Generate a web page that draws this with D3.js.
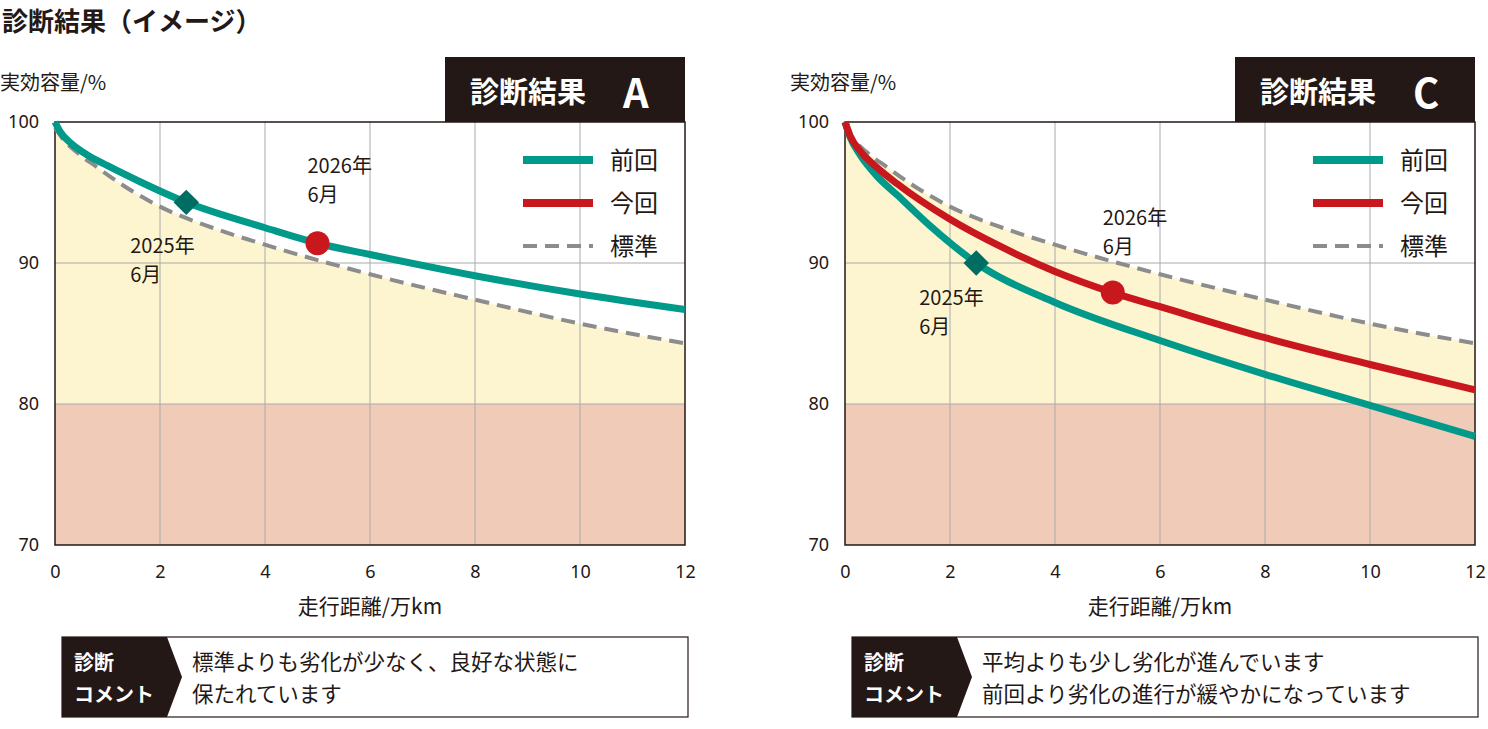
<!DOCTYPE html>
<meta charset="utf-8" />
<style>
  body { margin: 0; background: #fff; }
  text { font-family: "Noto Sans CJK JP", "Noto Sans", sans-serif; fill: #231815; }
</style>
<svg width="1488" height="729"></svg>
<script src="https://d3js.org/d3.v7.min.js"></script>
<script>
  var xTicks = [0, 2, 4, 6, 8, 10, 12];
  var yTicks = [70, 80, 90, 100];
  var stdX = [0, 0.15, 0.4, 0.8, 1.3, 2, 3, 4, 6, 8, 10, 12];
  var stdY = [99.6, 98.8, 97.9, 96.8, 95.5, 94, 92.5, 91.3, 89.2, 87.4, 85.7, 84.3];
  var aPrevX = [0, 0.1, 0.3, 0.6, 1, 1.6, 2.5, 4, 5, 6, 8, 10, 12];
  var aPrevY = [100, 99.3, 98.5, 97.7, 96.9, 95.8, 94.3, 92.5, 91.4, 90.6, 89.1, 87.8, 86.7];
  var cPrevX = [0, 0.1, 0.3, 0.6, 1, 1.6, 2.5, 4, 6, 8, 10, 12];
  var cPrevY = [100, 98.9, 97.6, 96.2, 94.8, 92.7, 90, 87.2, 84.5, 82.1, 79.9, 77.7];
  var cNowX = [0, 0.1, 0.3, 0.6, 1, 2, 3, 4, 5.1, 6, 8, 10, 12];
  var cNowY = [100, 99, 97.9, 96.8, 95.6, 93.1, 91.1, 89.4, 87.9, 86.9, 84.7, 82.8, 81];
  var legendLabels = ["前回", "今回", "標準"];

  var teal = "#00998a", red = "#c9171e", dark = "#231815";
  var svg = d3.select("svg");
  svg.append("text").attr("x", 2).attr("y", 31).attr("font-size", 26).attr("font-weight", "bold").text("診断結果（イメージ）");

  function zip(xs, ys) { return xs.map((x, i) => [x, ys[i]]); }

  function chart(x0, grade, series, markers, comment) {
    var g = svg.append("g");
    var x = d3.scaleLinear().domain([0, 12]).range([x0, x0 + 630]);
    var y = d3.scaleLinear().domain([70, 100]).range([545, 122]);
    var line = d3.line().x(d => x(d[0])).y(d => y(d[1])).curve(d3.curveMonotoneX);
    var std = zip(stdX, stdY);

    g.append("rect").attr("x", x(0)).attr("y", y(80)).attr("width", x(12) - x(0)).attr("height", y(70) - y(80)).attr("fill", "#f0cbb8");
    g.append("path").attr("fill", "#fdf5d0")
      .attr("d", d3.area().x(d => x(d[0])).y0(y(80)).y1(d => y(d[1])).curve(d3.curveMonotoneX)([[0, 100]].concat(std.slice(1))));
    xTicks.slice(1, -1).forEach(t => g.append("line").attr("x1", x(t)).attr("x2", x(t)).attr("y1", y(100)).attr("y2", y(70)).attr("stroke", "#aaa").attr("stroke-width", 1));
    [90, 80].forEach(t => g.append("line").attr("x1", x(0)).attr("x2", x(12)).attr("y1", y(t)).attr("y2", y(t)).attr("stroke", "#aaa").attr("stroke-width", 1));
    g.append("rect").attr("x", x(0)).attr("y", y(100)).attr("width", x(12) - x(0)).attr("height", y(70) - y(100)).attr("fill", "none").attr("stroke", dark).attr("stroke-width", 1.5);

    g.append("path").attr("d", line(std)).attr("fill", "none").attr("stroke", "#8c8c8c").attr("stroke-width", 4).attr("stroke-dasharray", "14,8");
    series.forEach(s => g.append("path").attr("d", line(s.d)).attr("fill", "none").attr("stroke", s.c).attr("stroke-width", 7));

    markers.forEach(m => {
      if (m.type === "d") g.append("rect").attr("x", -9).attr("y", -9).attr("width", 18).attr("height", 18).attr("fill", "#006d62")
        .attr("transform", `translate(${x(m.x)},${y(m.y)}) rotate(45)`);
      else g.append("circle").attr("cx", x(m.x)).attr("cy", y(m.y)).attr("r", 12).attr("fill", red);
      m.label.forEach((l, i) => g.append("text").attr("x", x(m.x) + m.dx).attr("y", y(m.y) + m.dy + i * 29).attr("font-size", 20).text(l));
    });

    var xa = g.append("g").attr("transform", "translate(0,545)").call(d3.axisBottom(x).tickValues(xTicks).tickSize(0).tickPadding(20));
    var ya = g.append("g").attr("transform", `translate(${x0},0)`).call(d3.axisLeft(y).tickValues(yTicks).tickSize(0).tickPadding(16));
    [xa, ya].forEach(a => { a.select(".domain").remove(); a.selectAll("text").attr("font-size", 18).style("font-family", "Noto Sans, sans-serif").attr("fill", dark); });
    g.append("text").attr("x", x0 - 55).attr("y", 90).attr("font-size", 20).text("実効容量/%");
    g.append("text").attr("x", x(6)).attr("y", 614).attr("font-size", 21).attr("text-anchor", "middle").text("走行距離/万km");

    g.append("rect").attr("x", x0 + 390).attr("y", 57).attr("width", 240).attr("height", 65).attr("fill", dark);
    g.append("text").attr("x", x0 + 415).attr("y", 103).attr("font-size", 29).attr("font-weight", "bold").style("fill", "#fff").text("診断結果");
    g.append("text").attr("x", x0 + 568).attr("y", 108).attr("font-size", 40).attr("font-weight", "bold").style("fill", "#fff").text(grade);

    var lc = [teal, red, "#8c8c8c"];
    legendLabels.forEach((l, i) => {
      var ly = 160 + i * 43;
      g.append("line").attr("x1", x0 + 468).attr("x2", x0 + 538).attr("y1", ly).attr("y2", ly).attr("stroke", lc[i])
        .attr("stroke-width", i === 2 ? 4 : 8).attr("stroke-dasharray", i === 2 ? "14,8" : null);
      g.append("text").attr("x", x0 + 555).attr("y", ly + 9).attr("font-size", 24).text(l);
    });

    var cx = x0 + 7;
    g.append("rect").attr("x", cx).attr("y", 637).attr("width", 626).attr("height", 80).attr("fill", "#fff").attr("stroke", dark).attr("stroke-width", 1.2);
    g.append("path").attr("d", `M${cx},637 H${cx + 105} L${cx + 120},677 L${cx + 105},717 H${cx} Z`).attr("fill", dark);
    g.append("text").attr("x", cx + 12).attr("y", 670).attr("font-size", 20).attr("font-weight", "bold").style("fill", "#fff").text("診断");
    g.append("text").attr("x", cx + 12).attr("y", 702).attr("font-size", 20).attr("font-weight", "bold").style("fill", "#fff").text("コメント");
    comment.forEach((c, i) => g.append("text").attr("x", cx + 130).attr("y", 670 + i * 32).attr("font-size", 21.5).text(c));
  }

  chart(55, "A", [{ d: zip(aPrevX, aPrevY), c: teal }],
    [{ type: "d", x: 2.5, y: 94.3, dx: -56, dy: 51, label: ["2025年", "6月"] },
     { type: "c", x: 5, y: 91.4, dx: -10, dy: -70, label: ["2026年", "6月"] }],
    ["標準よりも劣化が少なく、良好な状態に", "保たれています"]);

  chart(845, "C", [{ d: zip(cPrevX, cPrevY), c: teal }, { d: zip(cNowX, cNowY), c: red }],
    [{ type: "d", x: 2.5, y: 90, dx: -57, dy: 42, label: ["2025年", "6月"] },
     { type: "c", x: 5.1, y: 87.9, dx: -10, dy: -68, label: ["2026年", "6月"] }],
    ["平均よりも少し劣化が進んでいます", "前回より劣化の進行が緩やかになっています"]);
</script>
